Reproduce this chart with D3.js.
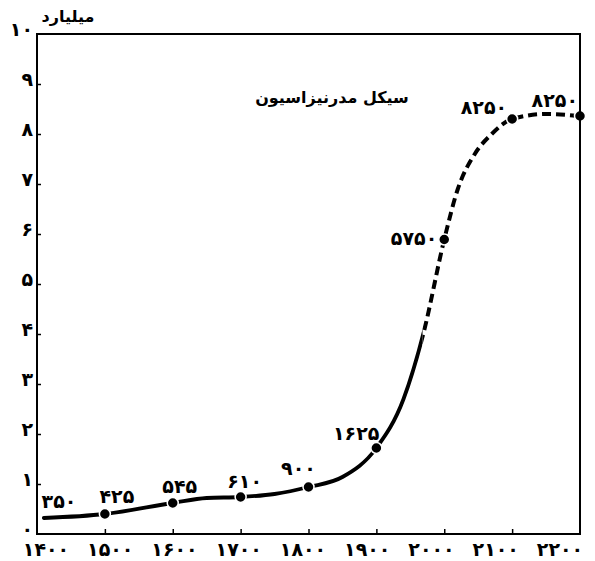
<!DOCTYPE html>
<html>
<head>
<meta charset="utf-8">
<script src="https://cdn.jsdelivr.net/npm/d3@7"></script>
<style>
  body { margin: 0; background: #fff; }
  text { font-family: "DejaVu Sans", sans-serif; font-weight: bold; fill: #000; }
</style>
</head>
<body>
<svg id="chart"></svg>
<script>
// marked points (years, population in billions) and their printed labels (millions)
const years = [1400, 1500, 1600, 1700, 1800, 1900, 2000, 2100, 2200];
const population = [0.32, 0.40, 0.62, 0.74, 0.94, 1.72, 5.89, 8.30, 8.36];
const pointLabels = ["۳۵۰", "۴۲۵", "۵۴۵", "۶۱۰", "۹۰۰", "۱۶۲۵", "۵۷۵۰", "۸۲۵۰", "۸۲۵۰"];

// extra readings of the drawn curve between the marked points
const curveYears = [1410, 1500, 1600, 1650, 1700, 1750, 1800, 1850, 1900, 1940, 1970, 2000, 2020, 2045, 2070, 2100, 2150, 2200];
const curveValues = [0.32, 0.40, 0.62, 0.72, 0.74, 0.80, 0.94, 1.14, 1.72, 2.70, 4.05, 5.89, 6.90, 7.60, 8.00, 8.30, 8.40, 8.36];

const xTicks = [1400, 1500, 1600, 1700, 1800, 1900, 2000, 2100, 2200];
const xTickLabels = ["۱۴۰۰", "۱۵۰۰", "۱۶۰۰", "۱۷۰۰", "۱۸۰۰", "۱۹۰۰", "۲۰۰۰", "۲۱۰۰", "۲۲۰۰"];
const yTicks = [0, 1, 2, 3, 4, 5, 6, 7, 8, 9, 10];
const yTickLabels = ["۰", "۱", "۲", "۳", "۴", "۵", "۶", "۷", "۸", "۹", "۱۰"];

const yAxisTitle = "میلیارد";
const note = "سیکل مدرنیزاسیون";
const projectionStart = 1968; // solid line turns dashed here

const width = 595, height = 561;
const numSize = "19px";

const svg = d3.select("#chart")
  .attr("width", width)
  .attr("height", height);

const x = d3.scaleLinear().domain([1400, 2200]).range([37, 580]);
const y = d3.scaleLinear().domain([0, 10]).range([534, 34]);
// the printed year labels sit a little tighter than the ticks
const xLabel = d3.scaleLinear().domain([1400, 2200]).range([46, 560]);

// clip regions for solid (history) and dashed (projection) parts
const defs = svg.append("defs");
defs.append("clipPath").attr("id", "solidClip")
  .append("rect")
  .attr("x", 0).attr("y", 0)
  .attr("width", x(projectionStart)).attr("height", height);
defs.append("clipPath").attr("id", "dashClip")
  .append("rect")
  .attr("x", x(projectionStart)).attr("y", 0)
  .attr("width", width - x(projectionStart)).attr("height", height);

const curveData = curveYears.map((yr, i) => ({ year: yr, value: curveValues[i] }));
const line = d3.line()
  .x(d => x(d.year))
  .y(d => y(d.value))
  .curve(d3.curveMonotoneX);

svg.append("path")
  .datum(curveData)
  .attr("clip-path", "url(#solidClip)")
  .attr("fill", "none")
  .attr("stroke", "#000")
  .attr("stroke-width", 3.8)
  .attr("stroke-linecap", "round")
  .attr("d", line);

svg.append("path")
  .datum(curveData)
  .attr("clip-path", "url(#dashClip)")
  .attr("fill", "none")
  .attr("stroke", "#000")
  .attr("stroke-width", 4)
  .attr("stroke-dasharray", "9,5")
  .attr("d", line);

// dots (the 1400 start has none)
const points = years.map((yr, i) => ({ year: yr, value: population[i], label: pointLabels[i] }));
svg.selectAll(".dot")
  .data(points.slice(1))
  .enter()
  .append("circle")
  .attr("class", "dot")
  .attr("cx", d => x(d.year))
  .attr("cy", d => y(d.value))
  .attr("r", 5.5)
  .attr("fill", "#000")
  .attr("stroke", "#fff")
  .attr("stroke-width", 1.5);

// label nudges relative to each dot: [dx, dy, anchor]
const labelNudge = [
  [22, -10, "middle"], [12, -11, "middle"], [7, -10, "middle"], [4, -9, "middle"],
  [-10, -12, "middle"], [3, -8, "end"], [-7, 5, "end"], [-5, -5, "end"], [-2, -9, "end"]
];
svg.selectAll(".pt-label")
  .data(points)
  .enter()
  .append("text")
  .attr("class", "pt-label")
  .attr("x", (d, i) => x(d.year) + labelNudge[i][0])
  .attr("y", (d, i) => y(d.value) + labelNudge[i][1])
  .attr("text-anchor", (d, i) => labelNudge[i][2])
  .style("font-size", numSize)
  .text(d => d.label);

// ticks
const yAxis = d3.axisRight(y).tickValues(yTicks.slice(1, -1)).tickSize(4).tickFormat("");
svg.append("g")
  .attr("transform", `translate(${x(1400)},0)`)
  .call(yAxis)
  .call(g => g.select(".domain").remove())
  .selectAll("line").attr("stroke-width", 1.5);

const xAxis = d3.axisTop(x).tickValues(xTicks.slice(1, -1)).tickSize(5).tickFormat("");
svg.append("g")
  .attr("transform", `translate(0,${y(0)})`)
  .call(xAxis)
  .call(g => g.select(".domain").remove())
  .selectAll("line").attr("stroke-width", 1.5);

// frame
svg.append("rect")
  .attr("x", x(1400))
  .attr("y", y(10))
  .attr("width", x(2200) - x(1400))
  .attr("height", y(0) - y(10))
  .attr("fill", "none")
  .attr("stroke", "#000")
  .attr("stroke-width", 2);

// tick labels
svg.selectAll(".y-label")
  .data(yTicks)
  .enter()
  .append("text")
  .attr("class", "y-label")
  .attr("x", 33)
  .attr("y", d => y(d) + 2)
  .attr("text-anchor", "end")
  .style("font-size", numSize)
  .text((d, i) => yTickLabels[i]);

svg.selectAll(".x-label")
  .data(xTicks)
  .enter()
  .append("text")
  .attr("class", "x-label")
  .attr("x", d => xLabel(d))
  .attr("y", 556)
  .attr("text-anchor", "middle")
  .style("font-size", numSize)
  .text((d, i) => xTickLabels[i]);

// titles
svg.append("text")
  .attr("x", 68)
  .attr("y", 22)
  .attr("text-anchor", "middle")
  .style("font-size", "16px")
  .text(yAxisTitle);

svg.append("text")
  .attr("x", 332)
  .attr("y", 103)
  .attr("text-anchor", "middle")
  .style("font-size", "16px")
  .text(note);
</script>
</body>
</html>
